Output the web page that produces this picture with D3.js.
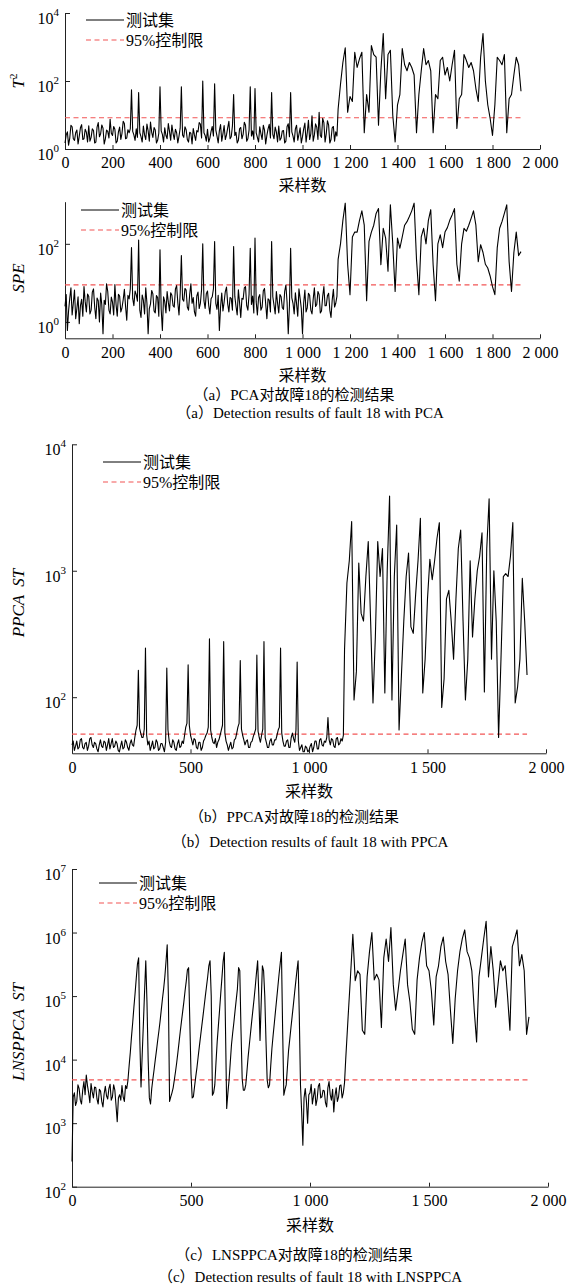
<!DOCTYPE html>
<html>
<head>
<meta charset="utf-8">
<script src="https://cdn.jsdelivr.net/npm/d3@7"></script>
<style>
  body { margin: 0; background: #fff; }
  svg { display: block; }
  text { font-family: "Liberation Serif", "Times New Roman", "Noto Sans CJK SC", serif; fill: #000; }
</style>
</head>
<body>
<svg id="chart" width="574" height="1287"></svg>
<script>
// normal part: a value every 5 samples (0 .. 1145); fault part: every 10 samples (1150 .. 1920)
const normalSamples = d3.range(0, 1150, 5);
const faultSamples = d3.range(1150, 1921, 10);
const samples = normalSamples.concat(faultSamples);

const t2Normal = [
  1.5, 2.6, 3.2, 1.3, 2.1, 5.0, 4.5, 2.0, 1.8, 3.0, 3.6, 1.4, 2.4, 4.2, 5.2, 1.9, 2.0, 3.8, 3.1, 1.6,
  4.8, 1.7, 2.2, 3.9, 3.5, 1.5, 1.6, 4.4, 6.0, 2.3, 2.8, 5.1, 4.1, 1.4, 2.0, 3.6, 3.3, 2.1, 7.5, 2.9,
  2.5, 4.6, 3.8, 1.5, 1.7, 3.2, 4.4, 1.9, 2.9, 6.5, 5.6, 2.0, 2.1, 3.7, 3.0, 4.0, 55, 3.3, 2.6, 1.8,
  3.9, 2.2, 46, 3.0, 2.3, 1.6, 4.7, 2.6, 1.9, 5.4, 3.4, 1.7, 6.2, 3.1, 2.2, 4.3, 3.6, 1.5, 1.8, 2.9,
  68, 3.4, 2.7, 1.6, 4.2, 2.5, 2.0, 5.6, 3.3, 1.8, 5.1, 2.9, 1.9, 3.8, 3.0, 1.5, 2.4, 4.1, 68, 2.6,
  2.2, 4.5, 3.7, 1.9, 1.6, 3.1, 2.9, 1.4, 4.0, 2.6, 1.8, 3.5, 3.2, 6.0, 5.4, 2.1, 100, 3.0, 2.5, 1.7,
  3.8, 1.6, 2.1, 3.3, 4.6, 2.4, 83, 3.6, 2.4, 1.5, 3.5, 5.2, 1.7, 2.8, 4.9, 1.9, 2.6, 4.2, 6.5, 2.0,
  2.3, 4.8, 40, 2.5, 3.1, 1.5, 1.8, 3.9, 4.3, 2.0, 2.7, 6.1, 5.0, 1.7, 2.0, 3.6, 68, 2.4, 3.4, 1.9,
  60, 3.0, 2.2, 1.6, 4.5, 2.8, 1.9, 5.0, 3.6, 1.4, 2.5, 3.9, 5.3, 2.1, 46, 2.7, 2.0, 4.4, 3.2, 1.6,
  4.7, 1.8, 2.1, 3.4, 3.5, 1.5, 1.7, 4.6, 5.5, 2.3, 46, 3.2, 2.4, 1.6, 3.9, 5.0, 1.8, 2.7, 4.2, 1.5,
  2.3, 3.9, 5.8, 1.6, 3.0, 7.0, 1.9, 2.8, 9.5, 1.7, 2.6, 5.5, 4.4, 1.9, 12, 2.5, 2.2, 8.0, 6.0, 1.6,
  2.8, 6.8, 5.0, 1.5, 1.9, 4.2, 4.6, 1.7, 3.2, 2.4
];
const t2Fault = [
  15, 80, 350, 950, 12,
  35, 25, 700, 250, 450, 700, 3, 40, 12, 1100,
  600, 500, 5, 200, 2500, 30, 600, 800, 10, 1.6,
  20, 40, 900, 300, 200, 350, 250, 150, 3, 40,
  200, 900, 300, 400, 200, 3, 40, 30, 400, 500,
  150, 250, 100, 300, 800, 4, 30, 40, 600, 400,
  250, 350, 200, 60, 25, 500, 2500, 100, 20, 8,
  2.5, 20, 500, 400, 300, 600, 3, 30, 40, 150,
  500, 300, 50
];

const speNormal = [
  2.5, 5.0, 0.6, 1.9, 4.0, 7.5, 1.5, 3.0, 6.5, 1.2, 2.2, 4.4, 0.9, 2.6, 3.8, 1.4, 8.0, 3.3, 1.8, 5.2,
  4.5, 1.6, 2.0, 5.8, 7.0, 2.4, 1.2, 4.1, 3.5, 1.0, 5.5, 2.7, 0.5, 3.6, 2.8, 9.5, 6.0, 2.0, 1.6, 4.3,
  3.2, 1.5, 9.0, 2.8, 1.4, 5.1, 4.6, 1.8, 2.3, 3.7, 6.8, 2.5, 1.1, 4.8, 3.9, 7.0, 80, 4.0, 2.6, 6.2,
  5.0, 3.4, 125, 2.0, 1.3, 4.9, 3.6, 1.6, 7.5, 3.0, 0.5, 2.2, 2.9, 6.4, 5.2, 1.9, 1.7, 4.7, 4.2, 1.4,
  70, 2.1, 0.6, 4.4, 3.3, 1.7, 6.0, 3.2, 1.9, 5.6, 4.8, 2.6, 2.4, 7.0, 8.5, 3.1, 1.5, 5.4, 50, 3.8,
  3.4, 7.2, 6.5, 2.4, 2.0, 5.0, 9.5, 3.0, 4.2, 1.8, 1.4, 4.6, 5.8, 2.2, 3.0, 6.6, 100, 3.5, 2.2, 5.3,
  6.2, 2.7, 1.6, 3.9, 4.4, 7.0, 115, 3.0, 2.1, 4.8, 0.6, 2.4, 5.5, 1.9, 3.2, 6.0, 7.8, 2.9, 1.8, 4.2,
  4.0, 2.0, 85, 4.5, 2.5, 1.5, 6.6, 3.1, 1.3, 4.0, 3.8, 7.4, 8.0, 2.6, 2.0, 5.1, 77, 2.8, 4.6, 1.7,
  140, 3.3, 1.5, 4.2, 5.0, 2.0, 2.4, 6.3, 7.2, 2.9, 1.2, 3.9, 3.6, 1.8, 115, 4.4, 2.7, 1.6, 6.0, 3.0,
  1.7, 5.0, 4.4, 2.3, 2.1, 6.1, 8.8, 3.2, 0.5, 2.6, 77, 4.1, 3.0, 1.6, 5.6, 2.9, 1.4, 7.0, 4.0, 2.2,
  0.5, 3.1, 6.5, 1.8, 2.3, 5.4, 4.8, 2.0, 1.6, 3.8, 7.5, 2.5, 2.8, 6.0, 5.0, 1.7, 1.9, 4.5, 8.0, 2.6,
  2.6, 4.7, 5.4, 2.0, 1.3, 3.6, 6.8, 2.4, 3.0, 4.5
];
const speFault = [
  40, 100, 400, 1100, 30,
  5, 150, 200, 200, 400, 700, 300, 3.5, 115, 200,
  300, 600, 800, 29, 250, 140, 20, 1000, 100, 6,
  140, 77, 150, 300, 370, 500, 700, 1100, 40, 5,
  150, 250, 100, 400, 750, 29, 3.5, 100, 170, 80,
  200, 260, 400, 550, 800, 30, 11, 100, 250, 210,
  300, 450, 700, 300, 35, 95, 60, 30, 24, 15,
  8, 5, 80, 250, 370, 600, 1000, 35, 6, 60,
  200, 50, 63
];

const ppcaNormal = [
  42, 45, 38, 41, 45, 39, 40, 46, 47, 40, 39, 43, 44, 38, 41, 47, 48, 42, 40, 44,
  43, 39, 37, 42, 46, 41, 40, 45, 44, 38, 42, 47, 39, 43, 47, 40, 41, 45, 43, 38,
  37, 41, 45, 39, 40, 46, 44, 40, 38, 43, 46, 42, 41, 48, 55, 60, 163, 57, 52, 48,
  48, 56, 245, 50, 42, 45, 38, 41, 45, 39, 40, 46, 44, 38, 39, 43, 43, 40, 37, 44,
  170, 55, 45, 41, 40, 46, 44, 39, 38, 43, 46, 40, 41, 45, 43, 50, 58, 62, 180, 60,
  50, 46, 42, 47, 46, 40, 39, 44, 44, 38, 40, 45, 47, 50, 52, 58, 290, 55, 48, 44,
  43, 47, 40, 44, 46, 50, 55, 60, 275, 52, 45, 42, 38, 41, 44, 39, 40, 46, 47, 52,
  58, 62, 195, 56, 50, 46, 42, 45, 46, 40, 40, 44, 45, 49, 52, 56, 215, 54, 48, 44,
  50, 56, 275, 48, 44, 40, 40, 45, 47, 42, 42, 46, 46, 50, 55, 58, 245, 52, 45, 41,
  41, 45, 46, 40, 40, 48, 52, 47, 44, 55, 190, 45, 38, 40, 42, 37, 37, 41, 40, 37,
  38, 41, 43, 37, 40, 45, 45, 39, 39, 46, 47, 42, 41, 45, 44, 48, 69, 46, 42, 47,
  46, 41, 40, 47, 48, 42, 43, 47, 45, 50
];
const ppcaFault = [
  240, 800, 1200, 2450, 95,
  160, 1150, 460, 400, 900, 1700, 400, 90, 300, 1700,
  900, 1500, 108, 1000, 3900, 95, 900, 2300, 55, 150,
  400, 900, 1380, 360, 320, 650, 1200, 2600, 108, 200,
  600, 1230, 850, 1200, 1800, 2400, 83, 140, 600, 700,
  400, 200, 600, 1500, 2100, 400, 95, 200, 1200, 300,
  600, 1000, 1300, 2000, 110, 1500, 3700, 200, 1000, 400,
  48, 200, 900, 950, 900, 1300, 2400, 90, 120, 200,
  870, 400, 150
];

const lnsNormal = [
  250, 2600, 3000, 1900, 2200, 4000, 3500, 2300, 2000, 3300, 4500, 2800, 5700, 3900, 3000, 2100, 4200, 3100, 2500, 3700,
  3600, 2400, 2000, 3400, 3200, 2200, 1800, 2900, 3800, 2700, 2400, 3500, 4100, 2300, 2600, 4000, 3300, 1900, 1050, 2500,
  2800, 2300, 3900, 2600, 2200, 3900, 3500, 4700, 8000, 13000, 23000, 38000, 66000, 110000, 190000, 320000, 400000, 20000, 3700, 12000,
  37000, 120000, 360000, 80000, 10000, 2500, 2000, 3500, 5000, 7000, 10000, 14000, 20000, 28000, 40000, 60000, 90000, 130000, 200000, 350000,
  640000, 100000, 2200, 2600, 3000, 3600, 4800, 6500, 9000, 13000, 19000, 28000, 40000, 57000, 81000, 120000, 170000, 260000, 280000, 40000,
  6000, 2500, 2600, 3800, 5400, 7500, 11000, 16000, 23000, 33000, 47000, 68000, 98000, 140000, 200000, 300000, 360000, 100000, 2750, 3000,
  4000, 9000, 19000, 34000, 60000, 110000, 195000, 350000, 490000, 30000, 1700, 3000, 4800, 9000, 17000, 26000, 38000, 58000, 87000, 130000,
  280000, 250000, 30000, 5000, 3300, 3300, 4000, 6500, 11000, 17000, 26000, 40000, 60000, 90000, 140000, 230000, 360000, 100000, 20000, 80000,
  300000, 250000, 100000, 20000, 4800, 3600, 4000, 8000, 15000, 24000, 37000, 58000, 90000, 140000, 220000, 330000, 490000, 30000, 2750, 3400,
  4000, 7500, 14000, 21000, 32000, 48000, 72000, 110000, 166000, 250000, 360000, 50000, 4000, 1500, 450, 2500, 3500, 2200, 1000, 2800,
  3000, 4100, 2000, 2700, 3500, 1900, 2400, 3800, 4200, 2500, 2600, 3300, 3200, 2100, 1800, 3600, 4500, 2800, 2300, 3400,
  1500, 2700, 3600, 2200, 2600, 3900, 4000, 2500, 3000, 4300
];
const lnsFault = [
  10000, 46000, 200000, 940000, 175000,
  250000, 220000, 29000, 25000, 200000, 500000, 1000000, 180000, 220000, 180000,
  32000, 400000, 790000, 350000, 1200000, 150000, 60000, 120000, 250000, 450000,
  790000, 150000, 80000, 30000, 25000, 180000, 400000, 700000, 1000000, 300000,
  250000, 120000, 35000, 200000, 300000, 600000, 850000, 350000, 220000, 60000,
  18000, 90000, 250000, 500000, 800000, 1100000, 500000, 400000, 250000, 60000,
  19000, 200000, 400000, 800000, 1500000, 200000, 600000, 250000, 67000, 150000,
  360000, 250000, 300000, 100000, 29000, 600000, 800000, 1100000, 300000, 450000,
  250000, 25000, 47000
];

// 95% control limits
const t2Limit = 8.3;
const speLimit = 8.9;
const ppcaLimit = 51;
const lnsLimit = 4800;

const ticks200 = d3.range(0, 2001, 200);
const ticks500 = d3.range(0, 2001, 500);

const legendLabels = ['测试集', '95%控制限'];
const xAxisLabel = '采样数';
const captionsA = ['（a）PCA对故障18的检测结果', '（a）Detection results of fault 18 with PCA'];
const captionsB = ['（b）PPCA对故障18的检测结果', '（b）Detection results of fault 18 with PPCA'];
const captionsC = ['（c）LNSPPCA对故障18的检测结果', '（c）Detection results of fault 18 with LNSPPCA'];

const svg = d3.select('#chart');
const limitColor = '#f25555';

function spaced(v) {
    return String(v).replace(/\B(?=(\d{3})+(?!\d))/g, ' ');
}

function drawPanel(p) {
    let x = d3.scaleLinear().domain([0, 2000]).range([p.left, p.right]);
    let y = d3.scaleLog().domain(p.yDomain).range([p.bottom, p.top]);
    let g = svg.append('g');

    // axes, ticks pointing inward
    let xAxis = d3.axisBottom(x)
        .tickValues(p.xTicks)
        .tickSizeInner(-4)
        .tickSizeOuter(0)
        .tickPadding(8)
        .tickFormat(spaced);
    let gx = g.append('g')
        .attr('transform', `translate(0,${p.bottom})`)
        .call(xAxis)
        .attr('font-family', null)
        .attr('font-size', null);
    gx.selectAll('text').style('font-size', '16px');

    let yAxis = d3.axisLeft(y)
        .tickValues(p.yExps.map(e => Math.pow(10, e)))
        .tickSizeInner(-5)
        .tickSizeOuter(0)
        .tickFormat('');
    g.append('g')
        .attr('transform', `translate(${p.left},0)`)
        .call(yAxis);

    g.selectAll('.domain, .tick line').attr('stroke', '#222');

    // y tick labels: 10 with a superscript exponent
    p.yExps.forEach(e => {
        let t = g.append('text')
            .attr('x', p.left - 6)
            .attr('y', y(Math.pow(10, e)) + 11)
            .attr('text-anchor', 'end')
            .style('font-size', '16px');
        t.append('tspan').text('10');
        t.append('tspan').attr('dy', -8).style('font-size', '11px').text(e);
    });

    // control limit, drawn over the samples that exist
    g.append('line')
        .attr('x1', x(0))
        .attr('x2', x(d3.max(samples)))
        .attr('y1', y(p.limit))
        .attr('y2', y(p.limit))
        .attr('stroke', limitColor)
        .attr('stroke-width', 1.2)
        .attr('stroke-dasharray', '5,3.5');

    let line = d3.line()
        .x((d, i) => x(samples[i]))
        .y(d => y(d));
    g.append('path')
        .datum(p.values)
        .attr('d', line)
        .attr('fill', 'none')
        .attr('stroke', '#000')
        .attr('stroke-width', 1.1)
        .attr('stroke-linejoin', 'round');

    // legend
    let lg = g.append('g').attr('transform', `translate(${p.legend[0]},${p.legend[1]})`);
    lg.append('line').attr('x1', 0).attr('x2', 38).attr('y1', 0).attr('y2', 0)
        .attr('stroke', '#000').attr('stroke-width', 1);
    lg.append('line').attr('x1', 0).attr('x2', 38).attr('y1', 20).attr('y2', 20)
        .attr('stroke', limitColor).attr('stroke-width', 1.2).attr('stroke-dasharray', '5,3.5');
    legendLabels.forEach((s, i) => {
        lg.append('text').attr('x', 40).attr('y', i * 20 + 6).style('font-size', '16px').text(s);
    });

    // axis titles
    g.append('text')
        .attr('x', (p.left + p.right) / 2)
        .attr('y', p.xLabelY)
        .attr('text-anchor', 'middle')
        .style('font-size', '16px')
        .text(xAxisLabel);

    let yt = g.append('text')
        .attr('transform', `translate(24,${p.titleY}) rotate(-90)`)
        .attr('text-anchor', 'middle')
        .style('font-size', '17px')
        .style('white-space', 'pre');
    yt.append('tspan').style('font-style', 'italic').text(p.title);
    if (p.titleSup) {
        yt.append('tspan').attr('dy', -7).style('font-size', '11px').text(p.titleSup);
    }

    // captions: Chinese line, then the English line a little to the right
    (p.captions || []).forEach((s, i) => {
        svg.append('text')
            .attr('x', i === 0 ? 294 : 310)
            .attr('y', p.captionY[i])
            .attr('text-anchor', 'middle')
            .style('font-size', '15px')
            .text(s);
    });
}

drawPanel({
    values: t2Normal.concat(t2Fault), limit: t2Limit,
    left: 65, right: 540, top: 13, bottom: 149,
    yDomain: [1, 1e4], yExps: [0, 2, 4], xTicks: ticks200,
    legend: [86, 20], title: 'T', titleSup: '2', titleY: 81, xLabelY: 191
});

drawPanel({
    values: speNormal.concat(speFault), limit: speLimit,
    left: 65, right: 540, top: 201.7, bottom: 338.3,
    yDomain: [0.38, 1200], yExps: [0, 2], xTicks: ticks200,
    legend: [81, 210], title: 'SPE', titleY: 278, xLabelY: 381,
    captions: captionsA, captionY: [400, 418]
});

drawPanel({
    values: ppcaNormal.concat(ppcaFault), limit: ppcaLimit,
    left: 72, right: 546, top: 444.3, bottom: 753.3,
    yDomain: [36, 1e4], yExps: [2, 3, 4], xTicks: ticks500,
    legend: [103, 462], title: 'PPCA  ST', titleY: 603, xLabelY: 797,
    captions: captionsB, captionY: [822, 847]
});

drawPanel({
    values: lnsNormal.concat(lnsFault), limit: lnsLimit,
    left: 72, right: 548, top: 869, bottom: 1186.7,
    yDomain: [100, 1e7], yExps: [2, 3, 4, 5, 6, 7], xTicks: ticks500,
    legend: [99, 883], title: 'LNSPPCA  ST', titleY: 1032, xLabelY: 1231,
    captions: captionsC, captionY: [1260, 1282]
});
</script>
</body>
</html>
